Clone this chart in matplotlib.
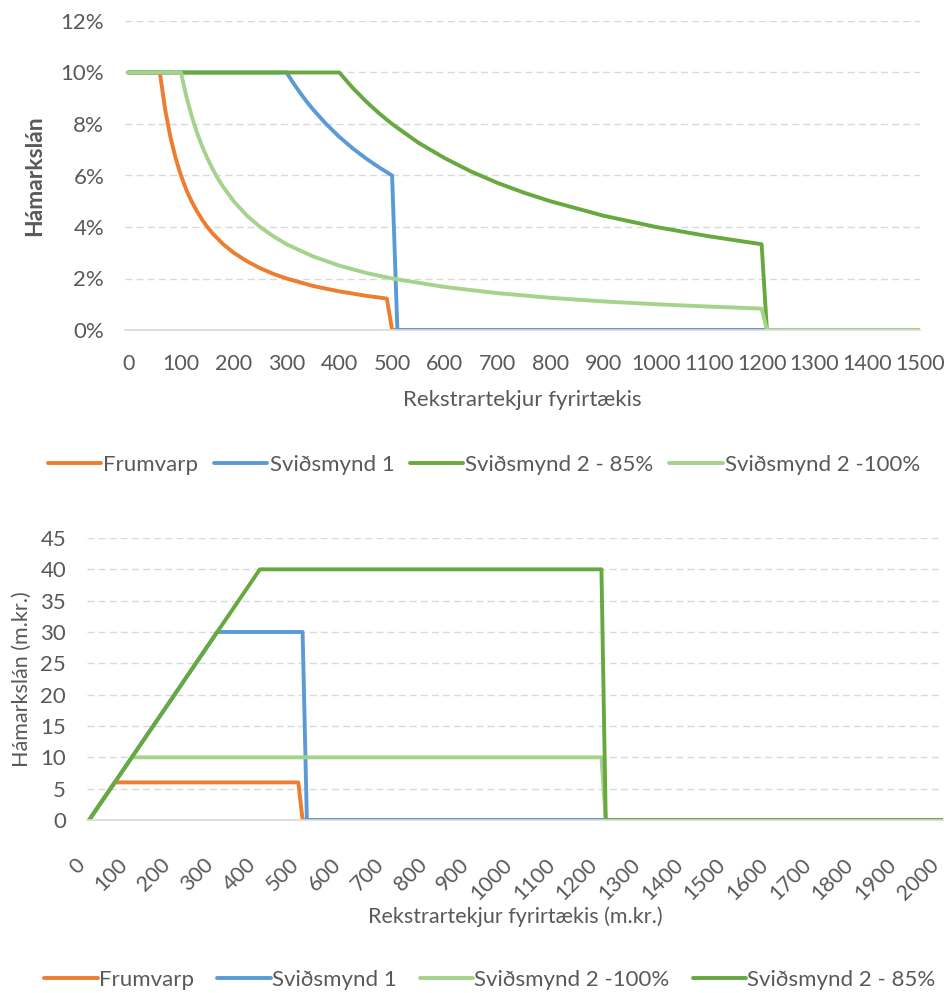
import matplotlib.pyplot as plt
from matplotlib.ticker import FuncFormatter

plt.rcParams['font.family'] = ['Lato', 'DejaVu Sans']

colors = {'Frumvarp': '#ED7D31', 'Sviðsmynd 1': '#5B9BD5',
          'Sviðsmynd 2 - 85%': '#67A83F', 'Sviðsmynd 2 -100%': '#A6D38B'}

# max loan as % of revenue
frum_x = [0, 60, 70, 80, 90, 100, 110, 120, 130, 140, 150, 160, 180, 200, 225, 250, 275,
          300, 350, 400, 450, 490, 500, 1500]
frum_pct = [10, 10, 8.57, 7.5, 6.67, 6.0, 5.45, 5.0, 4.62, 4.29, 4.0, 3.75, 3.33, 3.0, 2.67,
            2.4, 2.18, 2.0, 1.71, 1.5, 1.33, 1.22, 0, 0]

s1_x = [0, 300, 310, 320, 330, 340, 350, 375, 400, 425, 450, 475, 500, 510, 1500]
s1_pct = [10, 10, 9.68, 9.38, 9.09, 8.82, 8.57, 8.0, 7.5, 7.06, 6.67, 6.32, 6.0, 0, 0]

s85_x = [0, 400, 425, 450, 475, 500, 550, 600, 650, 700, 750, 800, 900, 1000, 1100,
         1200, 1210, 1500]
s85_pct = [10, 10, 9.41, 8.89, 8.42, 8.0, 7.27, 6.67, 6.15, 5.71, 5.33, 5.0, 4.44, 4.0,
           3.64, 3.33, 0, 0]

s100_x = [0, 100, 110, 120, 130, 140, 150, 160, 170, 180, 200, 225, 250, 275, 300, 350,
          400, 450, 500, 600, 700, 800, 900, 1000, 1100, 1200, 1210, 1500]
s100_pct = [10, 10, 9.09, 8.33, 7.69, 7.14, 6.67, 6.25, 5.88, 5.56, 5.0, 4.44, 4.0, 3.64,
            3.33, 2.86, 2.5, 2.22, 2.0, 1.67, 1.43, 1.25, 1.11, 1.0, 0.91, 0.83, 0, 0]

# max loan in m.kr.
frum_kx = [0, 60, 490, 500, 2000]
frum_kr = [0, 6, 6, 0, 0]
s1_kx = [0, 300, 500, 510, 2000]
s1_kr = [0, 30, 30, 0, 0]
s100_kx = [0, 100, 1200, 1210, 2000]
s100_kr = [0, 10, 10, 0, 0]
s85_kx = [0, 400, 1200, 1210, 2000]
s85_kr = [0, 40, 40, 0, 0]

txt = '#595959'
grid = '#D9D9D9'
lw = 2.8

fig = plt.figure(figsize=(9.48, 9.93), dpi=100)


def style(ax):
    for s in ['top', 'right', 'left']:
        ax.spines[s].set_visible(False)
    ax.spines['bottom'].set_color(grid)
    ax.spines['bottom'].set_linewidth(1.2)
    ax.grid(axis='y', color=grid, linestyle=(0, (5, 3)), linewidth=1)
    ax.set_axisbelow(True)
    ax.tick_params(length=0, colors=txt, labelsize=16)


# top chart
ax1 = fig.add_axes([125 / 948, 1 - 330 / 993, 795 / 948, 309 / 993])
style(ax1)
top = [('Frumvarp', frum_x, frum_pct), ('Sviðsmynd 1', s1_x, s1_pct),
       ('Sviðsmynd 2 - 85%', s85_x, s85_pct), ('Sviðsmynd 2 -100%', s100_x, s100_pct)]
for name, x, y in top:
    ax1.plot(x, y, color=colors[name], lw=lw, label=name, solid_capstyle='round',
             solid_joinstyle='round')
ax1.set_xlim(-6, 1500)
ax1.set_ylim(0, 12)
ax1.set_xticks(range(0, 1501, 100))
ax1.set_yticks(range(0, 13, 2))
ax1.yaxis.set_major_formatter(FuncFormatter(lambda v, p: f'{v:.0f}%'))
ax1.tick_params(axis='y', pad=15)
ax1.tick_params(axis='x', labelsize=15.5, pad=17)
ax1.set_ylabel('Hámarkslán', color=txt, fontsize=16.5, fontweight='bold', labelpad=11)
ax1.set_xlabel('Rekstrartekjur fyrirtækis', color=txt, fontsize=16, labelpad=12)
ax1.legend(loc='center', bbox_to_anchor=(484 / 948, 1 - 465 / 993),
           bbox_transform=fig.transFigure, ncol=4, frameon=False, fontsize=16,
           handlelength=2.4, handletextpad=0.1, columnspacing=0.7, labelcolor=txt)

# bottom chart
ax2 = fig.add_axes([87 / 948, 1 - 820 / 993, 856 / 948, 282 / 993])
style(ax2)
bottom = [('Frumvarp', frum_kx, frum_kr), ('Sviðsmynd 1', s1_kx, s1_kr),
          ('Sviðsmynd 2 -100%', s100_kx, s100_kr), ('Sviðsmynd 2 - 85%', s85_kx, s85_kr)]
for name, x, y in bottom:
    ax2.plot(x, y, color=colors[name], lw=lw, label=name, solid_capstyle='round',
             solid_joinstyle='round')
ax2.set_xlim(-5, 2000)
ax2.set_ylim(0, 45)
ax2.set_xticks(range(0, 2001, 100))
ax2.set_yticks(range(0, 46, 5))
ax2.tick_params(axis='y', pad=15)
ax2.tick_params(axis='x', labelsize=15.5, pad=25)
# slanted labels: rotated box right edge on the tick, top edge below the axis
for lab in ax2.get_xticklabels():
    lab.set_rotation(45)
    lab.set_ha('right')
    lab.set_va('top')
    lab.set_rotation_mode('default')
ax2.set_ylabel('Hámarkslán (m.kr.)', color=txt, fontsize=15.5, labelpad=6)
ax2.set_xlabel('Rekstrartekjur fyrirtækis (m.kr.)', color=txt, fontsize=15.5)
ax2.xaxis.set_label_coords(0.5, -0.305)
ax2.legend(loc='center', bbox_to_anchor=(490 / 948, 1 - 980 / 993),
           bbox_transform=fig.transFigure, ncol=4, frameon=False, fontsize=16,
           handlelength=2.4, handletextpad=0.05, columnspacing=1.05, labelcolor=txt)

fig.savefig('out.png', dpi=100, facecolor='white')
